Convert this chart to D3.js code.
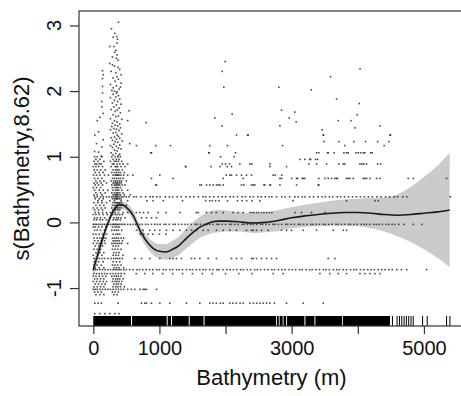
<!DOCTYPE html>
<html lang="en">
<head>
<meta charset="UTF-8" />
<title>s(Bathymetry,8.62)</title>
<script src="https://d3js.org/d3.v7.min.js"></script>
<style>
  body { margin: 0; background: #fff; }
  svg { display: block; font-family: "Liberation Sans", Arial, sans-serif; }
</style>
</head>
<body>
<script>
// smooth term (fit and half width of the shaded band)
var smoothX = [0, 50, 100, 150, 200, 250, 300, 350, 400, 450, 500, 600, 700, 800, 900, 1000, 1100, 1200, 1300, 1400, 1500, 1600, 1700, 1800, 1900, 2000, 2200, 2400, 2600, 2800, 3000, 3200, 3400, 3600, 3800, 4000, 4200, 4400, 4600, 4800, 5000, 5200, 5390];
var smoothFit = [-0.72, -0.55, -0.38, -0.22, -0.07, 0.06, 0.17, 0.24, 0.27, 0.26, 0.23, 0.11, -0.11, -0.28, -0.39, -0.44, -0.45, -0.41, -0.35, -0.25, -0.16, -0.08, -0.03, 0.01, 0.02, 0.02, 0.01, -0.01, 0.0, 0.03, 0.07, 0.1, 0.12, 0.14, 0.15, 0.15, 0.14, 0.12, 0.11, 0.12, 0.14, 0.16, 0.19];
var smoothSe = [0.12, 0.1, 0.08, 0.07, 0.06, 0.055, 0.05, 0.05, 0.05, 0.055, 0.06, 0.07, 0.08, 0.09, 0.1, 0.11, 0.12, 0.13, 0.14, 0.15, 0.16, 0.16, 0.17, 0.17, 0.17, 0.16, 0.15, 0.15, 0.15, 0.16, 0.16, 0.17, 0.18, 0.19, 0.2, 0.21, 0.23, 0.26, 0.32, 0.42, 0.55, 0.7, 0.87];

// partial residuals that sit on horizontal levels: [y, depths]
var residualRows = [
  [1.33, [23, 360, 2166, 2333, 2342, 3477, 3483, 4486, 4495]],
  [1.23, [330, 3487, 3714, 3941, 4117, 4300, 4470]],
  [1.17, [653, 945, 1167, 1762, 2030, 2862, 3804, 4399]],
  [1.06, [270, 870, 880, 1747, 1752, 2151, 3376, 3411, 3543, 3552, 3643, 3790, 3830, 3855, 3971, 4006, 4042, 4082, 4107, 4194, 4218]],
  [1.0, [20, 60, 130, 280, 330, 370, 410, 1925, 2131]],
  [0.96, [40, 100, 300, 350, 390, 3124, 3199, 3275, 3286, 3361, 3392]],
  [0.93, [10, 70, 160, 260, 320, 345, 380, 430]],
  [0.89, [25, 50, 90, 120, 290, 310, 360, 400, 450, 520, 1950, 2000, 2060, 2216, 2368, 2398, 2670, 3260, 3376, 3527, 3714, 3779, 3804, 4031, 4060, 4090, 4132, 4300, 4345]],
  [0.85, [0, 40, 80, 140, 270, 330, 350, 370, 420, 480, 1394, 1778, 1914, 2025, 2090, 2670, 2922]],
  [0.8, [15, 60, 110, 180, 300, 340, 360, 390, 440]],
  [0.76, [30, 90, 150, 280, 320, 350, 380, 410, 470]],
  [0.72, [5, 50, 100, 170, 230, 300, 330, 345, 360, 375, 390, 420, 460, 520, 600, 1006, 2010, 2065, 2090, 2166, 2242, 2317, 2393, 2720, 2750, 2850]],
  [0.67, [20, 70, 130, 290, 320, 350, 380, 410, 450, 880, 1208, 1964, 2267, 2822, 2847, 3000, 3074, 3088, 3159, 3175, 3199, 3411, 3503, 3553, 3604, 3653, 3679, 3693, 3830, 3855, 3881, 3931, 4083, 4107, 4133, 4184, 4284, 4334, 4763, 4839, 5343]],
  [0.63, [40, 100, 160, 270, 310, 340, 370, 400, 430, 500]],
  [0.6, [10, 60, 120, 200, 300, 330, 350, 365, 390, 420]],
  [0.57, [30, 80, 140, 280, 320, 340, 360, 380, 400, 440, 480, 946, 955, 1611, 1636, 1712, 1762, 1813, 1863, 1888, 1914, 1964, 2242, 2277, 2393, 2418, 2443, 2580, 2595, 2670, 2680, 2822, 3074, 3402, 3411]],
  [0.53, [0, 50, 110, 290, 330, 355, 375, 410]],
  [0.49, [20, 90, 150, 220, 300, 340, 360, 385, 430, 520]],
  [0.45, [40, 110, 180, 280, 320, 350, 370, 400, 450]],
  [0.42, [10, 60, 130, 300, 330, 345, 360, 380, 410, 470, 560]],
  [0.39, [20, 60, 110, 150, 200, 240, 280, 310, 340, 355, 370, 400, 430, 460, 500, 540, 610, 650, 720, 790, 860, 900, 960, 1010, 1090, 1150, 1200, 1270, 1330, 1400, 1460, 1520, 1590, 1660, 1700, 1760, 1820, 1890, 1950, 2000, 2070, 2120, 2180, 2250, 2300, 2370, 2420, 2490, 2540, 2600, 2660, 2700, 2770, 2850, 2900, 2970, 3050, 3100, 3160, 3200, 3270, 3330, 3400, 3460, 3510, 3570, 3620, 3690, 3740, 3800, 3860, 3920, 3980, 4040, 4100, 4160, 4220, 4290, 4350, 4420, 4480, 4550, 4600, 4680, 4740, 5400]],
  [0.36, [30, 90, 150, 290, 320, 340, 355, 370, 390, 420]],
  [0.33, [70, 130, 250, 320, 420, 520, 810, 905, 1060, 1350, 1700, 1760, 1800, 1850, 1900, 2030, 2180, 2250, 2320, 2400, 2519, 3020, 3830, 4260, 4310]],
  [0.3, [10, 70, 130, 200, 300, 330, 350, 365, 380, 400, 430]],
  [0.26, [40, 100, 160, 290, 320, 345, 370, 410, 450, 500]],
  [0.22, [0, 60, 120, 180, 280, 330, 360, 390, 420]],
  [0.19, [20, 80, 140, 300, 340, 370, 400]],
  [0.15, [30, 80, 140, 200, 260, 330, 380, 450, 520, 580, 650, 700, 760, 830, 981, 1100, 1309, 1560, 1586, 1712, 1788, 1860, 1964, 2115, 2191, 2267, 2368, 2400, 2430, 2469, 2500, 2544, 2580, 2620, 2660, 2700, 3049, 3150, 3300, 3502]],
  [0.12, [0, 40, 90, 150, 210, 290, 330, 360, 400, 440]],
  [0.07, [20, 60, 110, 170, 250, 310, 350, 380, 420, 480, 729, 804, 880, 956]],
  [0.04, [10, 50, 100, 140, 200, 300, 340, 370, 410]],
  [-0.03, [0, 25, 50, 80, 110, 140, 170, 200, 230, 260, 290, 310, 330, 350, 370, 390, 420, 450, 480, 520, 560, 600, 640, 700, 740, 790, 830, 880, 930, 970, 1010, 1070, 1100, 1150, 1210, 1240, 1290, 1340, 1390, 1430, 1480, 1540, 1570, 1620, 1680, 1720, 1760, 1810, 1870, 1900, 1950, 2000, 2060, 2090, 2140, 2190, 2250, 2280, 2330, 2380, 2420, 2470, 2530, 2560, 2610, 2660, 2720, 2750, 2800, 2850, 2910, 2940, 2990, 3040, 3100, 3130, 3180, 3230, 3290, 3320, 3370, 3420, 3480, 3510, 3560, 3610, 3670, 3700, 3750, 3800, 3860, 3890, 3940, 3990, 4050, 4090, 4130, 4180, 4240, 4280, 4320, 4370, 4430, 4470, 4520, 4560, 4620, 4700, 4840, 4970]],
  [-0.07, [0, 30, 80, 130, 190, 290, 330, 360, 390]],
  [-0.12, [20, 60, 110, 170, 280, 320, 350, 380, 430, 653, 754, 855, 930, 1006, 1107, 1208, 1309, 1409, 1485, 1561, 1661, 1737, 1863, 1964, 2065, 2166, 2317, 2393, 2418, 2469, 2545, 2645, 2847, 2923, 2998, 3175, 3377, 3629, 3780, 3830]],
  [-0.18, [0, 40, 90, 140, 200, 300, 340, 370, 400, 710, 760, 830, 900, 1000, 1100]],
  [-0.24, [10, 60, 100, 130, 160, 190, 290, 320, 350, 380, 420, 460]],
  [-0.28, [20, 70, 120, 170, 300, 330, 360, 390, 440]],
  [-0.32, [0, 50, 90, 130, 180, 280, 310, 340, 370, 400, 430, 520]],
  [-0.36, [30, 80, 140, 300, 340, 380]],
  [-0.41, [10, 60, 110, 290, 330, 370, 420]],
  [-0.46, [40, 100, 160, 310, 350, 390]],
  [-0.5, [0, 70, 130, 300, 340, 380, 450]],
  [-0.55, [10, 50, 90, 130, 170, 220, 270, 310, 340, 370, 400, 440, 628, 729, 855, 1006, 1157, 1208, 1258, 1334, 1485, 1535, 1611, 1737, 1863, 2090, 2166, 2242, 2393, 2418, 2469, 2545, 2620, 2696, 2771, 3553, 3654]],
  [-0.6, [20, 80, 150, 300, 350, 400]],
  [-0.65, [10, 60, 120, 290, 330, 370, 420]],
  [-0.69, [30, 90, 160, 310, 350, 390, 460]],
  [-0.72, [0, 30, 60, 100, 140, 180, 220, 260, 300, 330, 360, 390, 420, 460, 500, 550, 600, 660, 700, 750, 800, 850, 900, 960, 1000, 1060, 1100, 1160, 1200, 1260, 1300, 1350, 1410, 1460, 1500, 1560, 1610, 1660, 1700, 1760, 1810, 1870, 1900, 1960, 2020, 2070, 2120, 2170, 2230, 2270, 2330, 2380, 2440, 2480, 2530, 2590, 2640, 2700, 2740, 2800, 2850, 2900, 2960, 3010, 3060, 3120, 3160, 3220, 3270, 3310, 3370, 3420, 3480, 3520, 3570, 3630, 3680, 3720, 3780, 3830, 3890, 3940, 3980, 4040, 4090, 4150, 4200, 4250, 4310, 4360, 4410, 4470, 4520, 4590, 4660, 4740, 5040]],
  [-0.78, [10, 50, 90, 130, 170, 210, 260, 300, 340, 380, 420, 470, 650, 780, 900, 1050, 1200, 1350, 1500, 1650, 1800, 2000, 2200, 2400, 2721, 2872, 3427, 3578, 3704, 3830, 4032, 4108, 4183, 4259, 4335]],
  [-0.82, [0, 40, 90, 140, 190, 280, 320, 350, 380, 420]],
  [-0.86, [20, 60, 110, 160, 300, 340, 370, 400, 450]],
  [-0.9, [0, 50, 100, 150, 200, 290, 330, 360, 390, 430]],
  [-0.94, [30, 80, 130, 180, 310, 350, 380, 420]],
  [-0.98, [10, 60, 110, 160, 300, 340, 370, 410, 470]],
  [-1.02, [0, 30, 60, 100, 140, 180, 220, 260, 300, 340, 380, 420, 460, 520, 577, 628, 704, 754, 779, 804, 956]],
  [-1.06, [20, 70, 120, 290, 330, 380]],
  [-1.1, [40, 100, 160, 310, 360]],
  [-1.23, [23, 73, 123, 375, 729, 779, 804, 880, 1006, 1157, 1409, 1611, 1762, 1810, 1860, 1920, 1964, 2065, 2110, 2160, 2220, 2267, 2368, 2420, 2470, 2520, 2570, 2620, 2670, 2740, 2922, 3175, 3478]],
  [-1.39, [23, 98, 174, 250, 325, 390]]
];

// residuals off the levels (mostly the shallow column and the upper cloud): [depth, y]
var residualPoints = [
  [381, 3.05], [275, 2.95], [325, 2.88], [355, 2.83], [300, 2.82], [366, 2.79], [360, 2.73], [250, 2.68], [310, 2.68], [340, 2.62],
  [325, 2.59], [360, 2.55], [290, 2.52], [350, 2.5], [375, 2.47], [250, 2.42], [290, 2.4], [320, 2.38], [375, 2.36], [400, 2.33],
  [140, 2.31], [270, 2.3], [340, 2.28], [150, 2.25], [420, 2.25], [360, 2.22], [300, 2.2], [140, 2.19], [380, 2.18], [330, 2.15],
  [420, 2.12], [260, 2.1], [350, 2.08], [140, 2.07], [410, 2.06], [300, 2.05], [390, 2.03], [280, 2.01], [320, 2.0], [360, 1.99],
  [140, 1.97], [350, 1.97], [300, 1.95], [380, 1.93], [340, 1.91], [260, 1.9], [400, 1.88], [320, 1.86], [130, 1.84], [370, 1.84],
  [290, 1.82], [420, 1.8], [350, 1.79], [130, 1.76], [310, 1.76], [390, 1.74], [270, 1.72], [360, 1.71], [540, 1.7], [330, 1.69],
  [410, 1.67], [150, 1.66], [300, 1.64], [380, 1.62], [340, 1.61], [100, 1.6], [260, 1.58], [430, 1.57], [60, 1.55], [320, 1.55],
  [520, 1.55], [360, 1.53], [800, 1.52], [290, 1.51], [400, 1.5], [330, 1.48], [370, 1.47], [280, 1.46], [410, 1.44], [310, 1.43],
  [350, 1.42], [260, 1.41], [390, 1.4], [80, 1.38], [340, 1.37], [300, 1.36], [430, 1.35], [380, 1.31], [320, 1.3], [270, 1.29],
  [400, 1.28], [350, 1.27], [150, 1.26], [290, 1.25], [440, 1.24], [370, 1.22], [48, 1.2], [550, 1.2], [310, 1.19], [400, 1.18],
  [260, 1.17], [350, 1.16], [130, 1.15], [290, 1.14], [380, 1.13], [420, 1.12], [320, 1.1], [360, 1.09], [20, 1.08], [80, 1.07],
  [340, 1.05], [400, 1.04], [300, 1.03], [380, 1.02], [120, 1.01],
  [1994, 2.45], [1949, 2.3], [1974, 2.06], [1838, 1.59], [1949, 1.47], [2100, 1.65], [1400, 0.85], [3462, 1.41],
  [2806, 2.06], [3295, 2.02], [3588, 2.22], [4034, 2.34], [3679, 1.88], [4021, 1.81], [2847, 1.71], [3048, 1.68],
  [3991, 1.64], [2962, 1.59], [3068, 1.53], [3704, 1.55], [3896, 1.55], [2822, 1.47], [3956, 1.44], [4334, 1.47]
];

// rug: solid stretches and single ticks along the bottom
var rugRanges = [[0, 570], [586, 1110], [1125, 1175], [1190, 1443], [1458, 1668], [1683, 2765], [2778, 2805], [2818, 2864], [2877, 2916], [2930, 3193], [3208, 3344], [3358, 3764], [3777, 4486]];
var rugTicks = [4524, 4594, 4630, 4665, 4700, 4735, 4770, 4805, 4838, 4980, 5050, 5343, 5393];

var xTicks = [0, 1000, 2000, 3000, 4000, 5000];
var xTickLabels = [0, 1000, 3000, 5000];
var yTicks = [-1, 0, 1, 2, 3];

var w = 461, h = 396;
var pLeft = 79, pRight = 464, pTop = 11, pBottom = 326;

var x = d3.scaleLinear().domain([-216, 5606]).range([pLeft, pRight]);
var y = d3.scaleLinear().domain([-1.578, 3.22]).range([pBottom, pTop]);

var svg = d3.select("body").append("svg")
  .attr("width", w)
  .attr("height", h);

svg.append("defs").append("clipPath").attr("id", "plotclip")
  .append("rect")
  .attr("x", pLeft).attr("y", pTop)
  .attr("width", pRight - pLeft).attr("height", pBottom - pTop);

var plot = svg.append("g").attr("clip-path", "url(#plotclip)");

var smooth = smoothX.map(function(d, i) {
  return { x: d, fit: smoothFit[i], se: smoothSe[i] };
});

// shaded band
plot.append("path")
  .datum(smooth)
  .attr("fill", "#cbcbcb")
  .attr("d", d3.area()
    .x(function(d) { return x(d.x); })
    .y0(function(d) { return y(d.fit - d.se); })
    .y1(function(d) { return y(d.fit + d.se); })
    .curve(d3.curveMonotoneX));

// residuals
var pts = [];
residualRows.forEach(function(r) {
  r[1].forEach(function(v) { pts.push([v, r[0]]); });
});
residualPoints.forEach(function(p) { pts.push(p); });

plot.selectAll("rect.pt")
  .data(pts)
  .enter()
  .append("rect")
  .attr("class", "pt")
  .attr("x", function(d) { return x(d[0]) - 0.8; })
  .attr("y", function(d) { return y(d[1]) - 0.8; })
  .attr("width", 1.6)
  .attr("height", 1.6)
  .attr("fill", "#2a2a2a")
  .style("opacity", 0.85);

// fitted line
plot.append("path")
  .datum(smooth)
  .attr("fill", "none")
  .attr("stroke", "#1a1a1a")
  .attr("stroke-width", 1.6)
  .attr("d", d3.line()
    .x(function(d) { return x(d.x); })
    .y(function(d) { return y(d.fit); })
    .curve(d3.curveMonotoneX));

// rug
var rugTop = pBottom - 10;
plot.selectAll("rect.rug")
  .data(rugRanges)
  .enter()
  .append("rect")
  .attr("class", "rug")
  .attr("x", function(d) { return x(d[0]); })
  .attr("y", rugTop)
  .attr("width", function(d) { return x(d[1]) - x(d[0]); })
  .attr("height", pBottom - rugTop)
  .attr("fill", "#000");

plot.selectAll("line.rug")
  .data(rugTicks)
  .enter()
  .append("line")
  .attr("class", "rug")
  .attr("x1", function(d) { return x(d); })
  .attr("x2", function(d) { return x(d); })
  .attr("y1", rugTop)
  .attr("y2", pBottom)
  .attr("stroke", "#000")
  .attr("stroke-width", 1);

// box
svg.append("rect")
  .attr("x", pLeft).attr("y", pTop)
  .attr("width", pRight - pLeft).attr("height", pBottom - pTop)
  .attr("fill", "none")
  .attr("stroke", "#333")
  .attr("stroke-width", 1.2);

// x axis
var xAxis = svg.append("g")
  .attr("transform", "translate(0," + pBottom + ")")
  .call(d3.axisBottom(x)
    .tickValues(xTicks)
    .tickSize(8)
    .tickPadding(7)
    .tickFormat(function(d) { return xTickLabels.indexOf(d) >= 0 ? d : ""; }));
xAxis.select(".domain").remove();
xAxis.selectAll("line").attr("stroke", "#333").attr("stroke-width", 1.2);
xAxis.selectAll("text")
  .attr("fill", "#111")
  .style("font-size", "20px")
  .style("font-family", "Liberation Sans, Arial, sans-serif");

// y axis
var yAxis = svg.append("g")
  .attr("transform", "translate(" + pLeft + ",0)")
  .call(d3.axisLeft(y).tickValues(yTicks).tickSize(9).tickFormat(""));
yAxis.select(".domain").remove();
yAxis.selectAll("line").attr("stroke", "#333").attr("stroke-width", 1.2);

svg.selectAll("text.ylab")
  .data(yTicks)
  .enter()
  .append("text")
  .attr("class", "ylab")
  .attr("transform", function(d) { return "translate(61," + y(d) + ") rotate(-90)"; })
  .attr("text-anchor", "middle")
  .attr("fill", "#111")
  .style("font-size", "20px")
  .text(function(d) { return d; });

// axis titles
svg.append("text")
  .attr("x", (pLeft + pRight) / 2)
  .attr("y", 385)
  .attr("text-anchor", "middle")
  .attr("fill", "#111")
  .style("font-size", "22px")
  .text("Bathymetry (m)");

svg.append("text")
  .attr("transform", "translate(29," + (pTop + pBottom) / 2 + ") rotate(-90)")
  .attr("text-anchor", "middle")
  .attr("fill", "#111")
  .style("font-size", "22px")
  .text("s(Bathymetry,8.62)");
</script>
</body>
</html>
